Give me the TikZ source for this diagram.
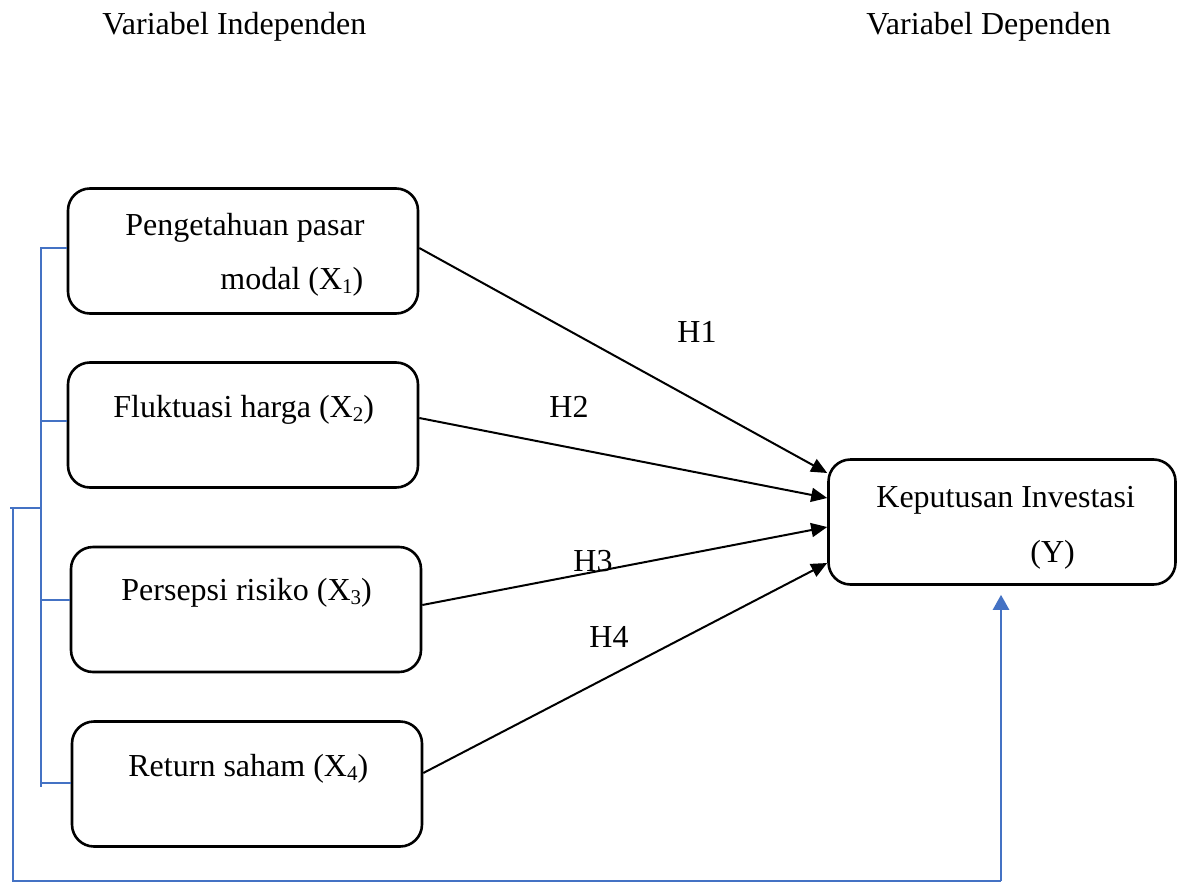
\documentclass[tikz,border=0pt]{standalone}
\usepackage{fontspec}
\setmainfont{Liberation Serif}
\usetikzlibrary{arrows.meta,calc}
\definecolor{blueline}{HTML}{4472C4}
\newcommand{\subx}[1]{\raisebox{-2.2pt}{\fontsize{10.5}{12}\selectfont #1}}
\begin{document}
\begin{tikzpicture}[x=0.5pt,y=-0.5pt,
  box/.style={draw,line width=1.3pt,rounded corners=11pt,minimum width=175pt,minimum height=62.5pt,inner sep=0pt},
  txt/.style={font=\fontsize{16}{19}\selectfont,inner sep=0pt,anchor=base west},
  conn/.style={line width=1pt,-{Triangle[length=8pt,width=7pt]}},
  bl/.style={draw=blueline,line width=0.8pt},
  blarrow/.style={draw=blueline,line width=1.2pt,-{Triangle[length=7.5pt,width=8pt]},fill=blueline}]
\useasboundingbox (0,0) rectangle (1177,883);
% titles
\node[txt] (t1) at (102,35) {Variabel Independen};
\node[txt] (t2) at (866,35) {Variabel Dependen};
% boxes
\node[box] (b1) at (243,251) {};
\node[box] (b2) at (243,425) {};
\node[box] (b3) at (246,609.5) {};
\node[box] (b4) at (247,784) {};
\node[box,minimum width=173.5pt] (yb) at (1002,522) {};
% box texts
\node[txt] (x1a) at (125,235) {Pengetahuan pasar};
\node[txt] (x1b) at (220,289) {modal (X\subx{1})};
\node[txt] (x2) at (113,417) {Fluktuasi harga (X\subx{2})};
\node[txt] (x3) at (121,600) {Persepsi risiko (X\subx{3})};
\node[txt] (x4) at (128,776) {Return saham (X\subx{4})};
\node[txt] (ya) at (876,507) {Keputusan Investasi};
\node[txt] (yy) at (1030,562) {(Y)};
% hypothesis labels
\node[txt] (h1) at (677,342) {H1};
\node[txt] (h2) at (549,417) {H2};
\node[txt] (h3) at (573,571) {H3};
\node[txt] (h4) at (589,647) {H4};
% connectors
\draw[conn] ([yshift=1.5pt]b1.east) -- ([yshift=24.5pt]yb.west);
\draw[conn] ([yshift=3.5pt]b2.east) -- ([yshift=12pt]yb.west);
\draw[conn] ([yshift=2.25pt]b3.east) -- ([yshift=-2.5pt]yb.west);
\draw[conn] ([yshift=5.5pt]b4.east) -- ([yshift=-20.5pt]yb.west);
% blue bracket
\coordinate (it) at (41,248);
\coordinate (ib) at (41,787);
\coordinate (im) at (41,508);
\coordinate (ol) at (10,508);
\coordinate (ot) at (13,508);
\coordinate (oc) at (13,881);
\coordinate (or) at (1001,881);
\draw[bl] ([yshift=1.5pt]b1.west) -- (it) -- (ib);
\draw[bl] ([yshift=2pt]b2.west) -- ([yshift=2pt]b2.west -| it);
\draw[bl] ([yshift=4.75pt]b3.west) -- ([yshift=4.75pt]b3.west -| it);
\draw[bl] ([yshift=0.5pt]b4.west) -- ([yshift=0.5pt]b4.west -| it);
\draw[bl] (im) -- (ol);
\draw[bl] (ot) -- (oc) -- (or);
\draw[blarrow,shorten >=4.5pt] (or) -- (or |- yb.south);
\end{tikzpicture}
\end{document}
